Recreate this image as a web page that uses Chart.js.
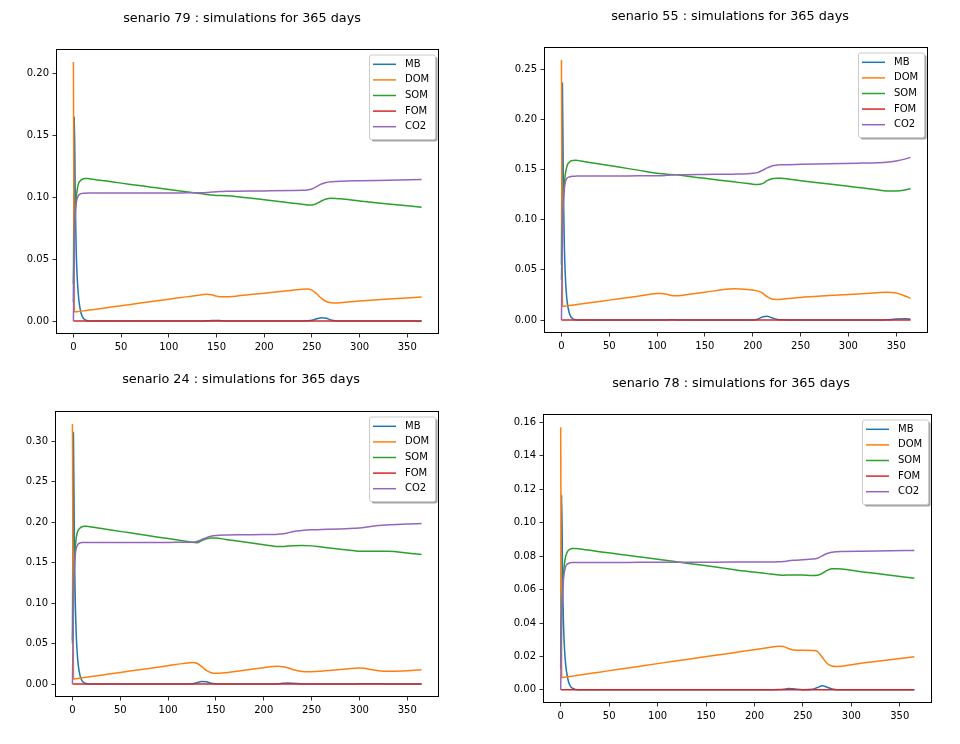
<!DOCTYPE html>
<html>
<head>
<meta charset="utf-8">
<script src="https://cdn.jsdelivr.net/npm/chart.js@4.4.0/dist/chart.umd.min.js"></script>
<style>
  body { margin: 0; background: #fff; width: 960px; height: 744px; position: relative; overflow: hidden; }
  .panel { position: absolute; }
</style>
</head>
<body>
<div id="figure"></div>
<script>
// shared x ticks
const xTicks = [0, 50, 100, 150, 200, 250, 300, 350];
const xLabels = ['0', '50', '100', '150', '200', '250', '300', '350'];
const seriesNames = ['MB', 'DOM', 'SOM', 'FOM', 'CO2'];
const seriesColors = ['#1f77b4', '#ff7f0e', '#2ca02c', '#d62728', '#9467bd'];

// senario 79
const days79 = [0,1,2,3,4,5,6,8,10,12,15,20,40,60,80,100,120,135,140,145,150,155,160,170,200,230,240,245,250,255,260,265,270,275,280,300,330,365];
const mb79 = [0.015,0.165,0.095,0.055,0.035,0.023,0.015,0.0065,0.0028,0.0012,0.0003,0, 0,0,0,0,0, 0.0001,0.0002,0.0004,0.0005,0.0003,0.0001,0, 0,0,0.0001,0.0002,0.0006,0.0018,0.0027,0.0022,0.0009,0.0002,0, 0,0,0];
const dom79 = [0.209,0.0075,0.0074,0.0075,0.0076,0.0077,0.0078,0.008,0.0082,0.0084,0.0087,0.0092, 0.0113,0.0134,0.0155,0.0176,0.0197, 0.0213,0.0217,0.0212,0.0201,0.0195,0.0195,0.0201, 0.0224,0.0249,0.0257,0.0258,0.0249,0.022,0.0183,0.0158,0.0148,0.0146,0.0148, 0.0161,0.0178,0.0194];
const som79 = [0.03,0.07,0.09,0.1,0.106,0.11,0.112,0.1138,0.1146,0.1149,0.1149,0.1143, 0.1123,0.1102,0.1082,0.1062,0.1041, 0.1026,0.1021,0.1016,0.1013,0.1012,0.101,0.1004, 0.0978,0.0951,0.0942,0.0937,0.0936,0.0948,0.0968,0.0984,0.099,0.0989,0.0986, 0.0968,0.0945,0.0918];
const fom79 = [0,0,0,0,0,0,0,0,0,0,0,0, 0,0,0,0,0, 0,0,0,0,0,0,0, 0,0,0,0,0,0,0,0,0,0,0, 0,0,0];
const co2_79 = [0,0.06,0.085,0.095,0.099,0.101,0.102,0.1028,0.103,0.1031,0.1032,0.1032, 0.1033,0.1033,0.1033,0.1033,0.1034, 0.1035,0.1037,0.104,0.1043,0.1045,0.1047,0.1048, 0.105,0.1053,0.1055,0.1058,0.1065,0.1085,0.1105,0.1117,0.1123,0.1126,0.1128, 0.1132,0.1136,0.1141];
const yTicks79 = [0, 0.05, 0.10, 0.15, 0.20];
const yLabels79 = ['0.00', '0.05', '0.10', '0.15', '0.20'];

// senario 55
const days55 = [0,1,2,3,4,5,6,8,10,12,15,20,40,60,80,100,105,110,115,120,130,150,180,195,200,205,210,215,220,225,230,250,280,310,330,340,350,360,365];
const mb55 = [0.055,0.236,0.13,0.075,0.045,0.028,0.018,0.0075,0.003,0.0012,0.0003,0, 0,0,0,0, 0,0.0001,0.0002,0.0001,0,0,0,0, 0.0001,0.0008,0.003,0.0038,0.0022,0.0008,0.0002, 0,0,0,0,0.0002,0.0009,0.0012,0.0008];
const dom55 = [0.259,0.0138,0.0137,0.0138,0.0139,0.014,0.0141,0.0144,0.0146,0.0149,0.0153,0.0159, 0.0185,0.0211,0.0237,0.0263, 0.0265,0.0257,0.0245,0.0241,0.0252,0.0276,0.0311,0.0305, 0.0299,0.029,0.027,0.0232,0.0209,0.0205,0.0207, 0.0225,0.0243,0.026,0.0272,0.0277,0.0268,0.0236,0.0217];
const som55 = [0.04,0.09,0.12,0.135,0.145,0.15,0.154,0.157,0.1585,0.159,0.1592,0.1585, 0.1553,0.1523,0.1493,0.1463, 0.1458,0.1453,0.1449,0.1446,0.1434,0.1411,0.1376,0.1359, 0.1353,0.135,0.1358,0.1388,0.1408,0.1413,0.1412, 0.1388,0.1355,0.132,0.1297,0.1286,0.1285,0.1297,0.1308];
const fom55 = [0,0,0,0,0,0,0,0,0,0,0,0, 0,0,0,0, 0,0,0,0,0,0,0,0, 0,0,0,0,0,0,0, 0,0,0,0,0,0,0,0];
const co2_55 = [0,0.08,0.115,0.13,0.137,0.14,0.1415,0.1425,0.143,0.1432,0.1433,0.1434, 0.1434,0.1435,0.1436,0.1437, 0.1438,0.1441,0.1444,0.1446,0.1448,0.145,0.1453,0.1457, 0.1461,0.1468,0.149,0.1515,0.1535,0.1543,0.1546, 0.1551,0.1556,0.1562,0.1567,0.1572,0.1585,0.1605,0.162];
const yTicks55 = [0, 0.05, 0.10, 0.15, 0.20, 0.25];
const yLabels55 = ['0.00', '0.05', '0.10', '0.15', '0.20', '0.25'];

// senario 24
const days24 = [0,1,2,3,4,5,6,8,10,12,15,20,40,60,80,100,115,125,130,135,140,145,150,160,180,200,210,215,220,225,230,240,250,260,280,295,300,305,310,320,330,350,365];
const mb24 = [0.054,0.311,0.17,0.1,0.06,0.038,0.024,0.01,0.004,0.0017,0.0004,0, 0,0,0,0,0, 0.0003,0.0015,0.0032,0.0027,0.0009,0.0002,0,0, 0,0.0001,0.0003,0.0008,0.0012,0.001,0.0004,0.0001,0, 0,0.0001,0.0002,0.0003,0.0003,0.0002,0.0001,0,0];
const dom24 = [0.3215,0.0065,0.0063,0.0064,0.0065,0.0067,0.0069,0.0072,0.0076,0.0079,0.0084,0.0093, 0.0126,0.016,0.0193,0.0227,0.0252, 0.0266,0.0256,0.0218,0.0168,0.014,0.0132,0.014,0.017, 0.0202,0.0216,0.0218,0.0214,0.0202,0.018,0.0156,0.0153,0.0159, 0.0178,0.0195,0.0198,0.0194,0.0182,0.0165,0.0158,0.0165,0.0177];
const som24 = [0.05,0.11,0.15,0.17,0.181,0.187,0.19,0.193,0.1945,0.195,0.195,0.194, 0.1905,0.1869,0.1833,0.1798,0.1771, 0.1752,0.1748,0.1772,0.1795,0.1804,0.1804,0.1788,0.1757, 0.1723,0.1705,0.17,0.17,0.1705,0.171,0.1714,0.1708,0.1694, 0.1667,0.1648,0.1642,0.164,0.164,0.1641,0.164,0.162,0.16];
const fom24 = [0,0,0,0,0,0,0,0,0,0,0,0, 0,0,0,0,0, 0,0,0,0,0,0,0,0, 0,0,0,0,0,0,0,0,0, 0,0,0,0,0,0,0,0,0];
const co2_24 = [0,0.09,0.14,0.16,0.168,0.171,0.173,0.1745,0.175,0.1751,0.1751,0.1751, 0.1751,0.1751,0.1751,0.1751,0.1752, 0.1753,0.1762,0.1785,0.181,0.1828,0.1836,0.1842,0.1845, 0.1848,0.185,0.1853,0.1858,0.1868,0.1882,0.1898,0.1906,0.191, 0.1918,0.1925,0.1928,0.1935,0.1945,0.196,0.1968,0.1978,0.1985];
const yTicks24 = [0, 0.05, 0.10, 0.15, 0.20, 0.25, 0.30];
const yLabels24 = ['0.00', '0.05', '0.10', '0.15', '0.20', '0.25', '0.30'];

// senario 78
const days78 = [0,1,2,3,4,5,6,8,10,12,15,20,40,60,80,100,130,160,190,215,225,230,235,240,250,260,265,270,275,280,285,290,310,340,365];
const mb78 = [0.0124,0.1167,0.065,0.038,0.024,0.016,0.011,0.005,0.0022,0.001,0.0003,0, 0,0,0,0,0,0,0,0, 0.0002,0.0004,0.0008,0.0006,0.0001,0.0004,0.0014,0.0024,0.0016,0.0005,0.0001,0, 0,0,0];
const dom78 = [0.1572,0.0076,0.0074,0.0075,0.0076,0.0077,0.0078,0.0079,0.0081,0.0082,0.0085,0.0089, 0.0106,0.0123,0.014,0.0157,0.0182,0.0207,0.0232,0.0253, 0.0261,0.0259,0.0247,0.0239,0.0237,0.0236,0.023,0.0195,0.0158,0.0143,0.014,0.0141, 0.0159,0.018,0.0198];
const som78 = [0.02,0.045,0.06,0.07,0.076,0.0795,0.0815,0.0835,0.0843,0.0846,0.0846,0.0843, 0.0827,0.0812,0.0797,0.0782,0.0758,0.0735,0.0711,0.0694, 0.0688,0.0686,0.0687,0.0688,0.0687,0.0685,0.0686,0.0697,0.0715,0.0724,0.0725,0.0723, 0.0707,0.0686,0.0668];
const fom78 = [0,0,0,0,0,0,0,0,0,0,0,0, 0,0,0,0,0,0,0,0, 0,0,0,0,0,0,0,0,0,0,0,0, 0,0,0];
const co2_78 = [0,0.04,0.058,0.067,0.071,0.0735,0.0748,0.0756,0.076,0.0762,0.0762,0.0762, 0.0762,0.0762,0.0763,0.0763,0.0764,0.0764,0.0765,0.0765, 0.0766,0.0768,0.0772,0.0775,0.0779,0.0783,0.0788,0.0802,0.0816,0.0824,0.0827,0.0828, 0.083,0.0832,0.0834];
const yTicks78 = [0, 0.02, 0.04, 0.06, 0.08, 0.10, 0.12, 0.14, 0.16];
const yLabels78 = ['0.00', '0.02', '0.04', '0.06', '0.08', '0.10', '0.12', '0.14', '0.16'];

// layout of the four panels (plot frame in page pixels, title centre)
const Y_W = 50;   // room for the y tick labels
const X_H = 30;   // room for the x tick labels
const panels = [
  { id: 79, days: days79, series: [mb79, dom79, som79, fom79, co2_79], yTicks: yTicks79, yLabels: yLabels79,
    frame: { l: 56, t: 49, r: 439, b: 334 }, top: 0, titleX: 242, titleY: 18.5 },
  { id: 55, days: days55, series: [mb55, dom55, som55, fom55, co2_55], yTicks: yTicks55, yLabels: yLabels55,
    frame: { l: 544, t: 47, r: 928, b: 333 }, top: 0, titleX: 730, titleY: 17 },
  { id: 24, days: days24, series: [mb24, dom24, som24, fom24, co2_24], yTicks: yTicks24, yLabels: yLabels24,
    frame: { l: 55, t: 411, r: 439, b: 697 }, top: 360, titleX: 241, titleY: 380 },
  { id: 78, days: days78, series: [mb78, dom78, som78, fom78, co2_78], yTicks: yTicks78, yLabels: yLabels78,
    frame: { l: 543, t: 414, r: 932, b: 703 }, top: 360, titleX: 731, titleY: 384 }
];

Chart.defaults.font.family = '"DejaVu Sans", sans-serif';
Chart.defaults.color = '#000';

const TITLE_SIZE = 12.8;
const TITLE_LH = 1.2;

// axes frame + matplotlib style legend box
const framePlugin = {
  id: 'mplFrame',
  afterDatasetsDraw(chart) {
    const a = chart.chartArea, ctx = chart.ctx;
    ctx.save();
    ctx.strokeStyle = '#000';
    ctx.lineWidth = 1;
    const l = Math.round(a.left) + 0.5, t = Math.round(a.top) + 0.5;
    const r = Math.round(a.right) - 0.5, b = Math.round(a.bottom) - 0.5;
    ctx.strokeRect(l, t, r - l, b - t);

    // legend
    const bw = 66, bh = 84.5;
    const bx = a.right - 69.5, by = a.top + 6;
    ctx.fillStyle = 'rgba(77,77,77,0.5)';
    ctx.beginPath();
    ctx.roundRect(bx + 2, by + 2, bw, bh, 2);
    ctx.fill();
    ctx.fillStyle = '#fff';
    ctx.strokeStyle = '#cccccc';
    ctx.beginPath();
    ctx.roundRect(bx, by, bw, bh, 2);
    ctx.fill();
    ctx.stroke();
    ctx.font = '10px "DejaVu Sans"';
    ctx.textBaseline = 'middle';
    ctx.textAlign = 'left';
    chart.data.datasets.forEach((ds, i) => {
      const y = by + 9.3 + i * 15.6;
      ctx.strokeStyle = ds.borderColor;
      ctx.lineWidth = 1.5;
      ctx.beginPath();
      ctx.moveTo(bx + 3.5, y);
      ctx.lineTo(bx + 26.5, y);
      ctx.stroke();
      ctx.fillStyle = '#000';
      ctx.fillText(ds.label, bx + 35.5, y);
    });
    ctx.restore();
  }
};

const figure = document.getElementById('figure');

panels.forEach(p => {
  const f = p.frame;
  const left = f.l - Y_W;
  const right = Math.max(2 * p.titleX - left, f.r + 8);
  const width = right - left;
  const height = f.b + X_H - p.top;
  const lh = TITLE_SIZE * TITLE_LH;
  const padTop = p.titleY - p.top - lh / 2;
  const padBottom = f.t - p.top - padTop - lh;
  const rightRoom = right - f.r;

  const wrap = document.createElement('div');
  wrap.className = 'panel';
  wrap.style.left = left + 'px';
  wrap.style.top = p.top + 'px';
  wrap.style.width = width + 'px';
  wrap.style.height = height + 'px';
  const canvas = document.createElement('canvas');
  canvas.width = width;
  canvas.height = height;
  canvas.style.width = width + 'px';
  canvas.style.height = height + 'px';
  wrap.appendChild(canvas);
  figure.appendChild(wrap);

  // data limits with matplotlib's 5% margins
  const all = [].concat(...p.series);
  const yLo = Math.min(...all), yHi = Math.max(...all);
  const xLo = Math.min(...p.days), xHi = Math.max(...p.days);
  const ym = (yHi - yLo) * 0.05, xm = (xHi - xLo) * 0.05;

  const datasets = p.series.map((vals, i) => ({
    label: seriesNames[i],
    data: p.days.map((d, j) => ({ x: d, y: vals[j] })),
    borderColor: seriesColors[i],
    backgroundColor: seriesColors[i],
    borderWidth: 1.5,
    pointRadius: 0,
    fill: false,
    cubicInterpolationMode: 'monotone',
    order: seriesNames.length - i
  }));

  new Chart(canvas.getContext('2d'), {
    type: 'line',
    data: { datasets: datasets },
    options: {
      responsive: false,
      animation: false,
      events: [],
      layout: { padding: 0 },
      plugins: {
        legend: { display: false },
        tooltip: { enabled: false },
        title: {
          display: true,
          text: 'senario ' + p.id + ' : simulations for 365 days',
          font: { size: TITLE_SIZE, weight: 'normal', lineHeight: TITLE_LH },
          color: '#000',
          padding: { top: padTop, bottom: padBottom }
        }
      },
      scales: {
        x: {
          type: 'linear',
          min: xLo - xm,
          max: xHi + xm,
          afterBuildTicks: s => { s.ticks = xTicks.map(v => ({ value: v })); },
          afterFit: s => { s.height = X_H; },
          ticks: { font: { size: 10 }, color: '#000', padding: 4, maxRotation: 0, autoSkip: false,
                   callback: (v, i) => xLabels[i] },
          grid: { drawOnChartArea: false, drawTicks: true, tickLength: 3.5, tickColor: '#000', tickWidth: 0.8 },
          border: { display: false }
        },
        y: {
          type: 'linear',
          min: yLo - ym,
          max: yHi + ym,
          afterBuildTicks: s => { s.ticks = p.yTicks.map(v => ({ value: v })); },
          afterFit: s => { s.width = Y_W; },
          ticks: { font: { size: 10 }, color: '#000', padding: 3.5, autoSkip: false,
                   callback: (v, i) => p.yLabels[i] },
          grid: { drawOnChartArea: false, drawTicks: true, tickLength: 3.5, tickColor: '#000', tickWidth: 0.8 },
          border: { display: false }
        },
        // empty right-hand box so the title centres on the whole figure
        spacer: {
          type: 'linear',
          axis: 'y',
          position: 'right',
          afterFit: s => { s.width = rightRoom; },
          ticks: { display: false },
          grid: { display: false, drawTicks: false },
          border: { display: false }
        }
      }
    },
    plugins: [framePlugin]
  });
});
</script>
</body>
</html>
